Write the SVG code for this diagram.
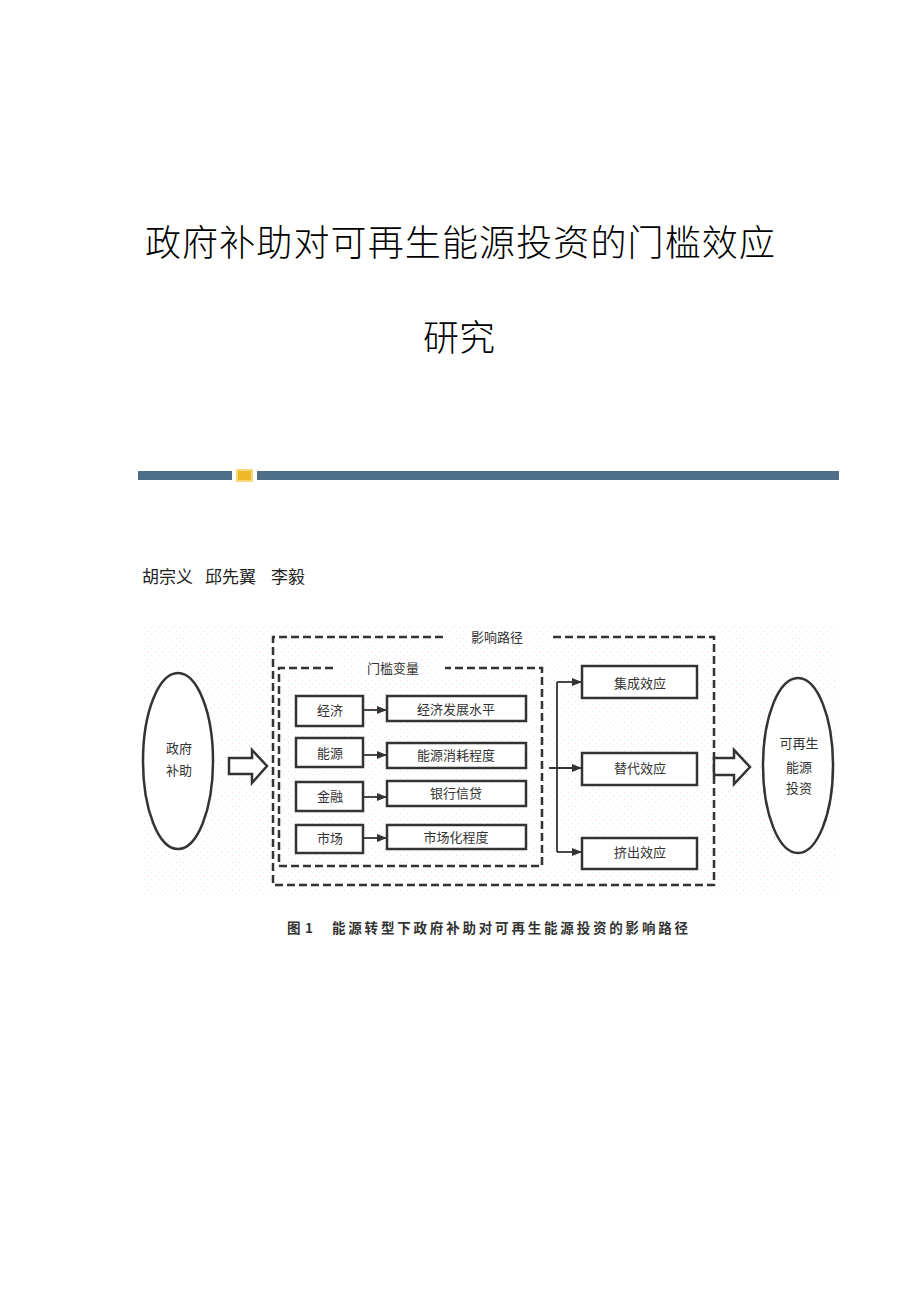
<svg xmlns="http://www.w3.org/2000/svg" width="920" height="1302" viewBox="0 0 920 1302">
  <style>
    .t { font-family: "Liberation Serif", "Noto Sans CJK SC", serif; fill: #333; font-size: 13px; text-anchor: middle; }
    .box { fill: #fff; stroke: #333; stroke-width: 2.5; }
    .dash { fill: none; stroke: #333; stroke-width: 2.5; stroke-dasharray: 8 4; }
    .ell { fill: #fff; stroke: #333; stroke-width: 2.5; }
    .hollow { fill: #fff; stroke: #333; stroke-width: 2.5; stroke-linejoin: miter; }
    .ln { fill: none; stroke: #333; stroke-width: 1.8; }
  </style>
  <defs>
    <marker id="ah" markerWidth="10" markerHeight="8" refX="10" refY="4" orient="auto" markerUnits="userSpaceOnUse">
      <path d="M0,0 L10,4 L0,8 Z" fill="#333"/>
    </marker>
    <pattern id="dots" width="7" height="7" patternUnits="userSpaceOnUse">
      <rect x="1" y="1" width="1" height="1" fill="#f6d4f0"/>
      <rect x="4" y="4" width="1" height="1" fill="#d4eef8"/>
    </pattern>
  </defs>
  <rect width="920" height="1302" fill="#fff"/>

  <g id="title">
    <text x="145" y="256" textLength="630" lengthAdjust="spacing" style="font-family:'Noto Sans CJK SC',sans-serif;font-size:36px;font-weight:300;fill:#000">政府补助对可再生能源投资的门槛效应</text>
    <text x="459" y="351" text-anchor="middle" style="font-family:'Noto Sans CJK SC',sans-serif;font-size:36px;font-weight:300;fill:#000">研究</text>
  </g>

  <g id="header-bar">
    <rect x="138" y="471" width="94" height="9" fill="#4e6d86"/>
    <rect x="236" y="469" width="17" height="13" fill="#f6d77a"/>
    <rect x="238" y="471" width="13" height="9" fill="#efb828"/>
    <rect x="257" y="471" width="582" height="9" fill="#4e6d86"/>
  </g>

  <g id="authors" style="font-family:'Noto Sans CJK SC',sans-serif;font-size:17px;fill:#222">
    <text x="142" y="583">胡宗义</text>
    <text x="205" y="583">邱先翼</text>
    <text x="271" y="583">李毅</text>
  </g>

  <rect id="figure-bg" x="142" y="626" width="695" height="268" fill="url(#dots)"/>

  <g id="group-outer">
    <path class="dash" d="M443,637 H273 V885 H714 V637 H553"/>
    <text class="t" x="497" y="642">影响路径</text>
  </g>
  <g id="group-inner">
    <path class="dash" d="M333,668 H279 V866 H542 V668 H445"/>
    <text class="t" x="393" y="673">门槛变量</text>
  </g>

  <g id="node-subsidy">
    <ellipse class="ell" cx="178" cy="761" rx="35" ry="88"/>
    <text class="t" x="179" y="753">政府</text>
    <text class="t" x="179" y="775">补助</text>
  </g>

  <g id="node-econ"><rect class="box" x="296" y="696" width="67" height="30"/><text class="t" x="330" y="715">经济</text></g>
  <g id="node-energy"><rect class="box" x="296" y="738" width="67" height="29"/><text class="t" x="330" y="758">能源</text></g>
  <g id="node-finance"><rect class="box" x="296" y="782" width="67" height="29"/><text class="t" x="330" y="801">金融</text></g>
  <g id="node-market"><rect class="box" x="296" y="825" width="67" height="28"/><text class="t" x="330" y="843">市场</text></g>

  <g id="node-econ-level"><rect class="box" x="387" y="696" width="139" height="25"/><text class="t" x="456" y="714">经济发展水平</text></g>
  <g id="node-energy-cons"><rect class="box" x="387" y="743" width="139" height="25"/><text class="t" x="456" y="760">能源消耗程度</text></g>
  <g id="node-credit"><rect class="box" x="387" y="781" width="139" height="25"/><text class="t" x="456" y="798">银行信贷</text></g>
  <g id="node-market-level"><rect class="box" x="387" y="825" width="139" height="24"/><text class="t" x="456" y="842">市场化程度</text></g>

  <g id="node-integration"><rect class="box" x="582" y="666" width="115" height="32"/><text class="t" x="640" y="688">集成效应</text></g>
  <g id="node-substitution"><rect class="box" x="582" y="753" width="115" height="32"/><text class="t" x="640" y="773">替代效应</text></g>
  <g id="node-crowding"><rect class="box" x="582" y="838" width="115" height="31"/><text class="t" x="640" y="857">挤出效应</text></g>

  <g id="node-investment">
    <ellipse class="ell" cx="798" cy="765.5" rx="35" ry="87.5"/>
    <text class="t" x="799" y="748">可再生</text>
    <text class="t" x="799" y="772">能源</text>
    <text class="t" x="799" y="793">投资</text>
  </g>

  <g id="connectors">
    <path class="hollow" d="M229,758 H252 V750 L267,766 L252,783 V774 H229 Z"/>
    <path class="hollow" d="M714,758 H734 V750 L750,767 L734,784 V775 H714 Z"/>
    <line class="ln" x1="363" y1="710" x2="387" y2="710" marker-end="url(#ah)"/>
    <line class="ln" x1="363" y1="755" x2="387" y2="755" marker-end="url(#ah)"/>
    <line class="ln" x1="363" y1="797" x2="387" y2="797" marker-end="url(#ah)"/>
    <line class="ln" x1="363" y1="838" x2="387" y2="838" marker-end="url(#ah)"/>
    <line class="ln" x1="557" y1="682" x2="557" y2="852"/>
    <line class="ln" x1="557" y1="682" x2="582" y2="682" marker-end="url(#ah)"/>
    <line class="ln" x1="549" y1="768" x2="582" y2="768" marker-end="url(#ah)"/>
    <line class="ln" x1="557" y1="852" x2="582" y2="852" marker-end="url(#ah)"/>
  </g>

  <g id="caption" style="font-family:'Noto Sans CJK SC',sans-serif;font-size:13.5px;font-weight:bold;fill:#333">
    <text x="287" y="933">图</text>
    <text x="305" y="933">1</text>
    <text x="332" y="933" textLength="356" lengthAdjust="spacing">能源转型下政府补助对可再生能源投资的影响路径</text>
  </g>
</svg>
